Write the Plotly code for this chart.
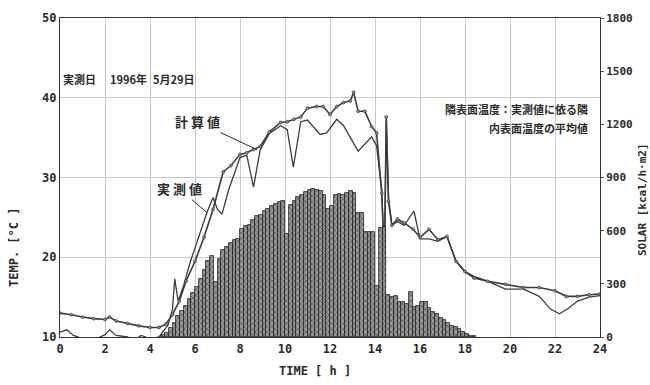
import plotly.graph_objects as go

# --- surface temperature: calculated (beaded line) and measured (plain line) ---
calc_t = [0, 0.5, 1, 1.5, 2, 2.2, 2.5, 3, 3.5, 4, 4.4, 4.7, 5.0, 5.3, 5.6, 6.0, 6.4, 6.8,
          7.25, 7.6, 8.0, 8.3, 8.6, 8.9, 9.3, 9.8, 10.1, 10.4, 10.7, 11.0, 11.4, 11.7,
          12.0, 12.3, 12.6, 12.9, 13.05, 13.25, 13.55, 13.85, 14.07, 14.3, 14.42, 14.5,
          14.6, 14.75, 15.0, 15.3, 15.7, 16.0, 16.4, 16.8, 17.2, 17.6, 18.0, 18.4, 19.0,
          19.8, 20.6, 21.3, 22.0, 22.5, 23.0, 23.5, 24.0]
calc_T = [13.0, 12.8, 12.5, 12.3, 12.2, 12.5, 12.0, 11.7, 11.4, 11.2, 11.2, 11.6, 12.8, 14.5,
          17.0, 19.5, 22.5, 26.0, 30.7, 31.5, 32.9, 33.1, 33.5, 33.9, 35.7, 36.9, 37.0, 37.3,
          37.6, 38.7, 38.9, 38.9, 37.9, 38.9, 39.4, 39.6, 40.7, 38.3, 38.3, 36.4, 35.6, 28.0,
          19.5, 37.6, 27.0, 24.0, 24.8, 24.3, 23.5, 22.5, 23.5, 22.2, 22.6, 19.5, 18.2, 17.4,
          17.0, 16.6, 16.2, 16.2, 15.8, 15.1, 15.1, 15.3, 15.4]

meas_t = [0, 0.3, 0.6, 1.0, 1.5, 2.0, 2.2, 2.5, 3.0, 3.3, 3.6, 4.0, 4.4, 4.8, 5.0, 5.1,
          5.25, 5.5, 5.8, 6.1, 6.53, 6.8, 7.0, 7.2, 7.5, 8.0, 8.3, 8.6, 8.9, 9.3, 9.8, 10.1,
          10.37, 10.7, 11.0, 11.56, 11.85, 12.3, 12.6, 13.25, 13.6, 13.85, 14.07, 14.3,
          14.42, 14.5, 14.6, 14.75, 15.0, 15.3, 15.73, 16.0, 16.4, 16.8, 17.2, 17.6, 18.0,
          18.4, 19.0, 19.8, 20.6, 21.3, 21.8, 22.2, 22.6, 23.0, 23.5, 24.0]
meas_T = [10.6, 10.9, 10.2, 9.8, 9.6, 10.3, 10.9, 10.2, 10.0, 9.6, 10.2, 9.8, 10.0, 11.5,
          13.5, 17.3, 14.5, 16.5, 19.5, 22.0, 25.6, 27.5, 26.0, 25.4, 28.5, 32.5, 32.8,
          28.8, 33.5, 35.5, 36.5, 36.0, 31.3, 37.0, 37.2, 35.4, 35.6, 37.3, 36.5, 33.3,
          34.4, 35.1, 34.0, 28.5, 19.2, 37.2, 27.5, 24.0, 24.5, 24.0, 25.8, 22.3, 22.3,
          22.0, 22.6, 19.5, 18.2, 17.6, 17.0, 16.0, 16.0, 15.1, 13.5, 12.9, 13.6, 14.5,
          15.0, 15.2]

# --- solar radiation, 10-minute values (kcal/h·m2) ---
solar_start = 4.5
solar_step = 1 / 6
solar = [10, 25, 50, 80, 120, 145, 175, 215, 250, 280, 330, 380, 430, 455, 310,
         440, 490, 510, 530, 545, 555, 610, 625, 630, 660, 680, 690, 710, 720, 740,
         750, 760, 770, 580, 745, 770, 790, 800, 820, 830, 835, 830, 825, 800, 720,
         740, 800, 805, 800, 810, 825, 810, 700, 700, 595, 590, 590, 290, 615, 620,
         235, 225, 230, 200, 195, 185, 255, 170, 175, 195, 200, 165, 140, 130, 110,
         95, 80, 60, 55, 45, 30, 15, 8, 3]
solar_t = [solar_start + (i + 0.5) * solar_step for i in range(len(solar))]

x_ticks = list(range(0, 25, 2))
y_ticks = [10, 20, 30, 40, 50]
y2_ticks = [0, 300, 600, 900, 1200, 1500, 1800]

MONO = "DejaVu Sans Mono"
JP = "Noto Sans CJK JP"
INK = "#2a2a2a"
TICKFONT = dict(family=MONO, size=12, color=INK, weight="bold")
RIGHTFONT = dict(family=MONO, size=11, color=INK, weight="bold")

fig = go.Figure()

fig.add_trace(go.Bar(
    x=solar_t, y=solar, yaxis="y2", width=solar_step,
    marker=dict(color="#8c8c8c", line=dict(color="#1e1e1e", width=0.8),
                pattern=dict(shape="x", fgcolor="#2e2e2e", bgcolor="#9c9c9c",
                             size=4, solidity=0.4)),
    showlegend=False, hoverinfo="skip",
))

fig.add_trace(go.Scatter(
    x=meas_t, y=meas_T, mode="lines",
    line=dict(color="#3c3c3c", width=1.3),
    showlegend=False, name="実測値",
))
fig.add_trace(go.Scatter(
    x=calc_t, y=calc_T, mode="lines+markers",
    line=dict(color="#3c3c3c", width=1.6),
    marker=dict(size=3, color="#8a8a8a", line=dict(color="#333", width=0.6)),
    showlegend=False, name="計算値",
))

JPFONT = dict(family=JP, size=11, color=INK, weight="bold")
annotations = [
    dict(x=8.75, y=33.5, ax=6.1, ay=37.0, xref="x", yref="y", axref="x", ayref="y",
         text="計 算 値", showarrow=True, arrowhead=0, arrowwidth=1, arrowcolor=INK,
         font=dict(family=JP, size=13, color=INK, weight="bold"), xanchor="center"),
    dict(x=6.53, y=25.6, ax=5.3, ay=28.6, xref="x", yref="y", axref="x", ayref="y",
         text="実 測 値", showarrow=True, arrowhead=0, arrowwidth=1, arrowcolor=INK,
         font=dict(family=JP, size=13, color=INK, weight="bold"), xanchor="center"),
    dict(x=0.05, y=42.4, xref="x", yref="y", xanchor="left", yanchor="middle",
         text="実測日", showarrow=False, font=JPFONT),
    dict(x=2.15, y=42.4, xref="x", yref="y", xanchor="left", yanchor="middle",
         text="1996年", showarrow=False, font=JPFONT),
    dict(x=4.05, y=42.4, xref="x", yref="y", xanchor="left", yanchor="middle",
         text="5月29日", showarrow=False, font=JPFONT),
    dict(x=23.55, y=38.55, xref="x", yref="y", xanchor="right", yanchor="middle",
         text="隣表面温度：実測値に依る隣", showarrow=False, font=JPFONT),
    dict(x=23.55, y=36.25, xref="x", yref="y", xanchor="right", yanchor="middle",
         text="内表面温度の平均値", showarrow=False, font=JPFONT),
]

# axis titles placed in pixel space
W, H = 650, 385
L, R, T, B = 60, 50, 18, 48
def px(xp, yp):
    return (xp - L) / (W - L - R), (H - B - yp) / (H - T - B)

bx, by = px(315, 371)
annotations.append(dict(x=bx, y=by, xref="paper", yref="paper", text="TIME [ h ]",
                        xanchor="center", yanchor="middle",
                        showarrow=False, font=TICKFONT))
tx, ty = px(14, 248)
annotations.append(dict(x=tx, y=ty, xref="paper", yref="paper", text="TEMP. [°C ]",
                        xanchor="center", yanchor="middle",
                        textangle=-90, showarrow=False, font=TICKFONT))
sx, sy = px(642, 200)
annotations.append(dict(x=sx, y=sy, xref="paper", yref="paper",
                        xanchor="center", yanchor="middle",
                        text="SOLAR [kcal/h·m2]", textangle=-90, showarrow=False,
                        font=RIGHTFONT))

fig.update_layout(
    width=W, height=H,
    margin=dict(l=L, r=R, t=T, b=B),
    paper_bgcolor="white", plot_bgcolor="white",
    bargap=0,
    font=dict(family=MONO, size=12, color=INK),
    xaxis=dict(range=[0, 24], tickvals=x_ticks, ticks="", showgrid=True,
               gridcolor="#c9c9c9", gridwidth=1, zeroline=False,
               showline=True, linecolor="#333", linewidth=1.2, mirror=True,
               tickfont=TICKFONT),
    yaxis=dict(range=[10, 50], tickvals=y_ticks, ticks="", showgrid=True,
               gridcolor="#c9c9c9", gridwidth=1, zeroline=False,
               showline=True, linecolor="#333", linewidth=1.2, mirror=True,
               tickfont=TICKFONT),
    yaxis2=dict(range=[0, 1800], tickvals=y2_ticks, overlaying="y", side="right",
                ticks="outside", ticklen=3, tickcolor="#555", showgrid=False,
                zeroline=False, ticklabelstandoff=0, tickfont=RIGHTFONT),
    annotations=annotations,
)

fig.write_html("out.html")
